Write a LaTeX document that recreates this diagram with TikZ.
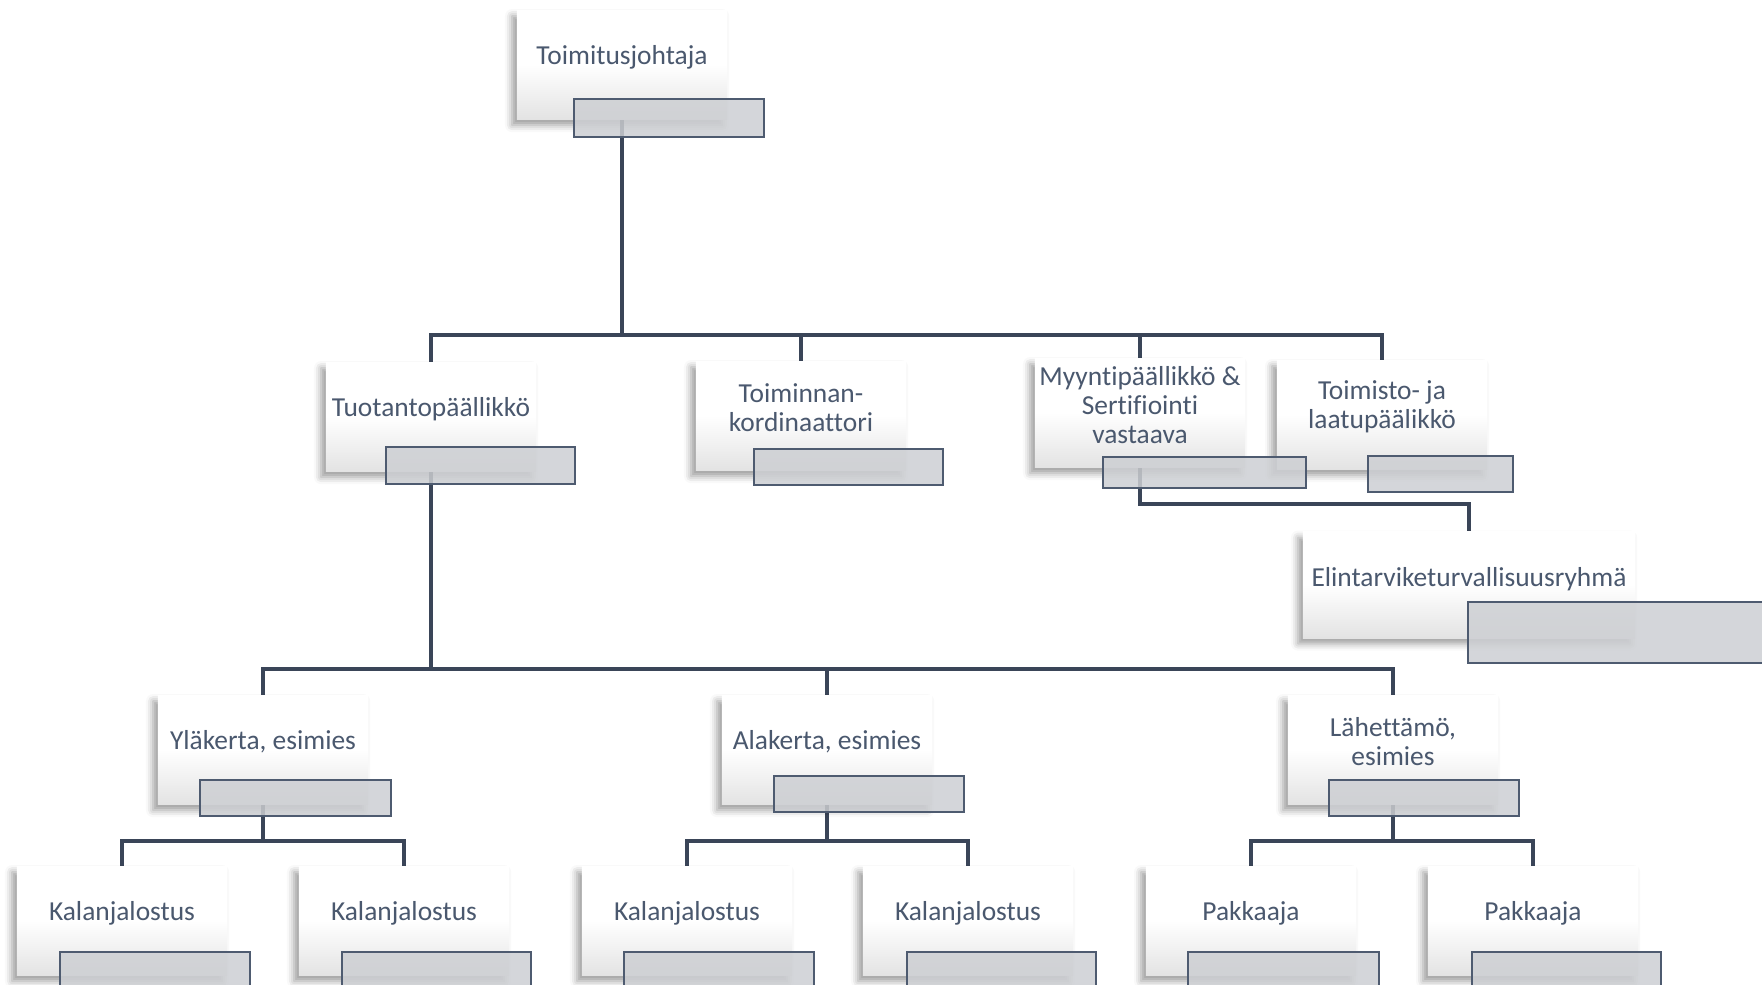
\documentclass[tikz,border=0pt]{standalone}
\usepackage{fontspec}
\setmainfont[Ligatures=NoCommon]{Carlito}
\usetikzlibrary{shadows.blur,backgrounds}
\definecolor{linkcol}{HTML}{3A4558}
\definecolor{textcol}{HTML}{4A586E}
\definecolor{tagfill}{HTML}{CDCFD3}
\definecolor{tagdraw}{HTML}{4E5B70}
\tikzset{
  unit/.style={rectangle, minimum width=2.1cm, minimum height=1.09cm, inner sep=0pt,
    top color=white, bottom color=black!11, middle color=white,
    blur shadow={shadow xshift=-1.4pt, shadow yshift=-1.6pt, shadow blur radius=2pt, shadow opacity=40}},
  unittext/.style={text=textcol, font=\fontsize{7.8}{8.2}\selectfont, align=center, inner sep=0pt},
  tag/.style={fill=tagfill, fill opacity=0.85, draw=tagdraw, line width=0.45pt},
  link/.style={draw=linkcol, line width=1pt}
}
\begin{document}
\begin{tikzpicture}[x=0.01cm, y=-0.01cm]
\useasboundingbox (0,0) rectangle (1762,985);
\clip (0,0) rectangle (1762,985);
% boxes
\foreach \n/\x/\y/\txt in {ceo/622/65/Toimitusjohtaja,
    prod/431/417/Tuotantop\"a\"allikk\"o, coord/801/416/{Toiminnan-\\kordinaattori},
    sales/1140/413/{Myyntip\"a\"allikk\"o \&\\Sertifiointi\\vastaava}, office/1382/415/{Toimisto- ja\\laatup\"a\"alikk\"o},
    upper/263/750/{Yl\"akerta, esimies}, lower/827/750/{Alakerta, esimies}, ship/1393/750/{L\"ahett\"am\"o,\\esimies},
    fish1/122/921/Kalanjalostus, fish2/404/921/Kalanjalostus, fish3/687/921/Kalanjalostus,
    fish4/968/921/Kalanjalostus, pack1/1251/921/Pakkaaja, pack2/1533/921/Pakkaaja} {
  \node[unit] (\n) at (\x,\y) {};
  \node[unittext] (\n-t) at ([yshift=0.08cm]\n.center) {\txt};
}
\node[unit, minimum width=3.32cm, minimum height=1.06cm] (food) at (1469,585) {};
\node[unittext] (food-t) at ([yshift=0.06cm]food.center) {Elintarviketurvallisuusryhm\"a};
% name tags
\foreach \xa/\ya/\xb/\yb in {574/99/764/137, 386/447/575/484, 754/449/943/485, 1103/457/1306/488,
    1368/456/1513/492, 1468/602/1800/663, 200/780/391/816, 774/776/964/812, 1329/780/1519/816,
    60/952/250/1010, 342/952/531/1010, 624/952/814/1010, 907/952/1096/1010, 1188/952/1379/1010, 1472/952/1661/1010} {
  \draw[tag] (\xa,\ya) rectangle (\xb,\yb);
}
% connectors
\coordinate (bar1) at (0,335);
\coordinate (bar2) at (0,504);
\coordinate (bar3) at (0,669);
\coordinate (bar4) at (0,841);
\begin{scope}[on background layer]
\foreach \c in {prod,coord,sales,office}
  \draw[link] (ceo.south) -- (ceo.south |- bar1) -| (\c.north);
\draw[link] (sales.south) -- (sales.south |- bar2) -| (food.north);
\foreach \c in {upper,lower,ship}
  \draw[link] (prod.south) -- (prod.south |- bar3) -| (\c.north);
\foreach \p/\c in {upper/fish1, upper/fish2, lower/fish3, lower/fish4, ship/pack1, ship/pack2}
  \draw[link] (\p.south) -- (\p.south |- bar4) -| (\c.north);
\end{scope}
\end{tikzpicture}
\end{document}
